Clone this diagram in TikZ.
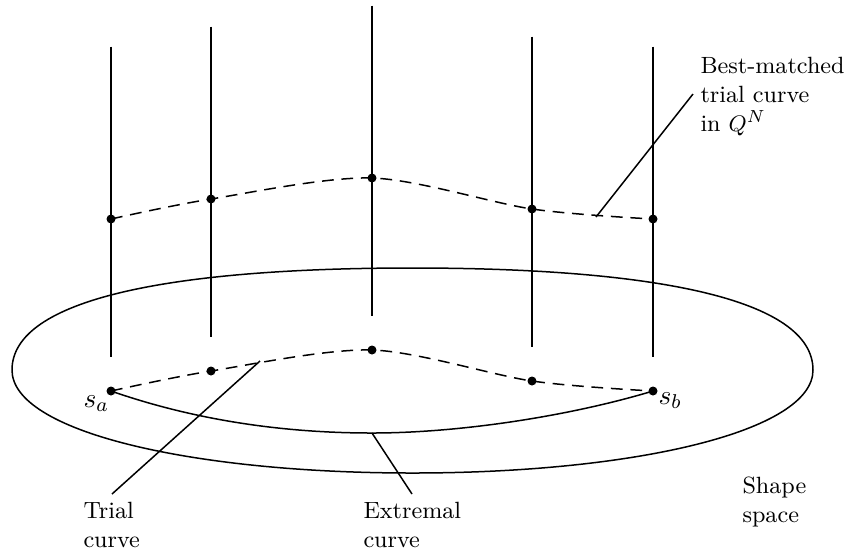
\documentclass[tikz,border=0pt]{standalone}
\begin{document}
\begin{tikzpicture}[x=0.4pt,y=-0.4pt]
\tikzset{
  thinline/.style={line width=0.6pt},
  dotnode/.style={circle, fill=black, inner sep=0pt, minimum size=3.6pt},
  dashcurve/.style={line width=0.6pt, dash pattern=on 4.7pt off 3.1pt},
  lbl/.style={anchor=north west, inner sep=0pt, align=left, font=\fontsize{9.4pt}{11.6pt}\selectfont},
  endlbl/.style={anchor=base west, inner sep=0pt, font=\fontsize{10.8pt}{13pt}\selectfont},
}
\useasboundingbox (0,0) rectangle (847,549);

% shape space (ellipse)
\draw[thinline] (12,370) .. controls (12,298.6) and (172.2,268) .. (412.5,268)
  .. controls (652.8,268) and (813,298.6) .. (813,370)
  .. controls (813,431.8) and (632.8,473) .. (412.5,473)
  .. controls (192.2,473) and (12,431.8) .. (12,370);

% vertical fibres
\foreach \i/\x/\y in {1/111/391, 2/211/371, 3/372/350, 4/532/381, 5/653/391}{
  \coordinate (top\i) at (\x,\y-344.5);
  \coordinate (bot\i) at (\x,\y-34.5);
  \draw[thinline] (top\i) -- (bot\i);
}

% lower trial curve
\draw[dashcurve] plot[smooth] coordinates {(111,391) (211,371) (372,350) (532,381) (653,391)};
% upper best-matched curve
\draw[dashcurve] plot[smooth] coordinates {(111,219) (211,199) (372,178) (532,209) (653,219)};

% extremal curve
\draw[thinline] (111,391) .. controls (200,422) and (290,433) .. (372,433)
  .. controls (460,433) and (570,416) .. (653,391);

% dots
\node[dotnode] (l1) at (111,391) {};
\node[dotnode] (l2) at (211,371) {};
\node[dotnode] (l3) at (372,350) {};
\node[dotnode] (l4) at (532,381) {};
\node[dotnode] (l5) at (653,391) {};
\node[dotnode] (u1) at (111,219) {};
\node[dotnode] (u2) at (211,199) {};
\node[dotnode] (u3) at (372,178) {};
\node[dotnode] (u4) at (532,209) {};
\node[dotnode] (u5) at (653,219) {};

% endpoint labels
\node[endlbl] (sa) at (83,407) {$s_a$};
\node[endlbl] (sb) at (658,404) {$s_b$};

% text labels
\node[lbl] (best) at (700,57) {Best-matched\\trial curve\\in $Q^N$};
\node[lbl] (trial) at (83,502) {Trial\\curve};
\node[lbl] (extr) at (363,502) {Extremal\\curve};
\node[lbl] (shape) at (742,476.7) {Shape\\space};

% leader lines
\coordinate (bestA) at (693,94);
\coordinate (bestB) at (596,217);
\coordinate (trialA) at (112,494);
\coordinate (trialB) at (260,361);
\coordinate (extrA) at (412,494);
\coordinate (extrB) at (372,433);
\draw[thinline] (bestA) -- (bestB);
\draw[thinline] (trialA) -- (trialB);
\draw[thinline] (extrA) -- (extrB);
\end{tikzpicture}
\end{document}
